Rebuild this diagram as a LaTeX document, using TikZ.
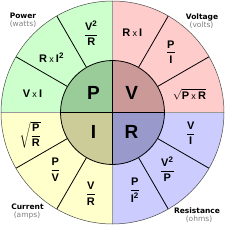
\documentclass[tikz,border=0pt]{standalone}
\usepackage{amsmath}
\usepackage{fontspec}
\setmainfont{Liberation Sans}
\newfontfamily\tagfont{DejaVu Sans}
\definecolor{powerout}{HTML}{CCFFCC}
\definecolor{powerin}{HTML}{99CC99}
\definecolor{voltout}{HTML}{FFCCCC}
\definecolor{voltin}{HTML}{CC9999}
\definecolor{ampout}{HTML}{FFFFCC}
\definecolor{ampin}{HTML}{CCCC99}
\definecolor{ohmout}{HTML}{CCCCFF}
\definecolor{ohmin}{HTML}{9999CC}
\tikzset{
  formula/.style={font=\fontsize{11}{12}\selectfont\bfseries, inner sep=0pt},
  letter/.style={font=\fontsize{19}{20}\selectfont\bfseries, inner sep=0pt},
  quantity/.style={font=\tagfont\fontsize{7.5}{8}\selectfont\bfseries, inner sep=0pt},
  unit/.style={font=\tagfont\fontsize{7.5}{8}\selectfont, text=gray, inner sep=0pt},
  divider/.style={line width=0.8pt},
  quarter/.style={line width=0.5pt, draw=gray!80}
}
\newcommand{\frc}[2]{$\genfrac{}{}{0.9pt}{0}{\hbox{#1}}{\hbox{#2}}$}
\newcommand{\sq}{\textsuperscript{\fontsize{8}{8}\selectfont 2}}
\newcommand{\by}{\hspace{2.2pt}{\mdseries\small x}\hspace{2.2pt}}

\begin{document}
\begin{tikzpicture}[x=1pt, y=1pt]

  \useasboundingbox (-112.5,-112.5) rectangle (112.5,112.5);
  \fill[white] (-112.5,-112.5) rectangle (112.5,112.5);

  % outer ring
  \fill[voltout] (0,0) -- (0:111.5) arc (0:90:111.5) -- cycle;
  \fill[powerout] (0,0) -- (90:111.5) arc (90:180:111.5) -- cycle;
  \fill[ampout] (0,0) -- (180:111.5) arc (180:270:111.5) -- cycle;
  \fill[ohmout] (0,0) -- (270:111.5) arc (270:360:111.5) -- cycle;
  \foreach \a in {0,90,180,270}
    \draw[quarter] (\a:52) -- (\a:111.5);
  \foreach \a in {30,60,120,150,210,240,300,330}
    \draw[divider] (\a:52) -- (\a:111.5);
  \draw[line width=0.5pt, draw=black!70] (0,0) circle (111.5);

  % inner circle
  \fill[voltin] (0,0) -- (0:52) arc (0:90:52) -- cycle;
  \fill[powerin] (0,0) -- (90:52) arc (90:180:52) -- cycle;
  \fill[ampin] (0,0) -- (180:52) arc (180:270:52) -- cycle;
  \fill[ohmin] (0,0) -- (270:52) arc (270:360:52) -- cycle;
  \draw[line width=0.6pt] (-52,0) -- (52,0) (0,-52) -- (0,52);
  \draw[divider] (0,0) circle (52);

  \node (p) [letter] at (135:27) {P};
  \node (v) [letter] at (45:27) {V};
  \node (i) [letter] at (225:27) {I};
  \node (r) [letter] at (315:27) {R};

  % power
  \node (pvr) [formula] at (105:82) {\frc{V\sq}{R}};
  \node (pri) [formula] at (138:82) {R\by I\sq};
  \node (pvi) [formula] at (167:82) {V\by I};
  % voltage
  \node (vri) [formula] at (76:82) {R\by I};
  \node (vpi) [formula] at (46:84) {\frc{P}{I}};
  \node (vpr) [formula] at (13:79) {$\sqrt{\hbox{P\by R}}$};
  % current
  \node (ipr) [formula] at (195:85) {$\sqrt{\genfrac{}{}{0.9pt}{0}{\hbox{P}}{\hbox{R}}}$};
  \node (ipv) [formula] at (225:81) {\frc{P}{V}};
  \node (ivr) [formula] at (255:84) {\frc{V}{R}};
  % resistance
  \node (rvi) [formula] at (345:81) {\frc{V}{I}};
  \node (rvp) [formula] at (314:79) {\frc{V\sq}{P}};
  \node (rpi) [formula] at (286:81) {\frc{P}{I\sq}};

  % quantity names
  \node (power) [quantity] at (-89.5,96.5) {Power};
  \node (watts) [unit] at (-89.5,88.5) {(watts)};
  \node (voltage) [quantity] at (89.5,95.5) {Voltage};
  \node (volts) [unit] at (89,87.5) {(volts)};
  \node (current) [quantity] at (-85,-94.5) {Current};
  \node (amps) [unit] at (-85.5,-102.5) {(amps)};
  \node (resistance) [quantity] at (84.5,-98.5) {Resistance};
  \node (ohms) [unit] at (86.5,-106.5) {(ohms)};

\end{tikzpicture}
\end{document}
